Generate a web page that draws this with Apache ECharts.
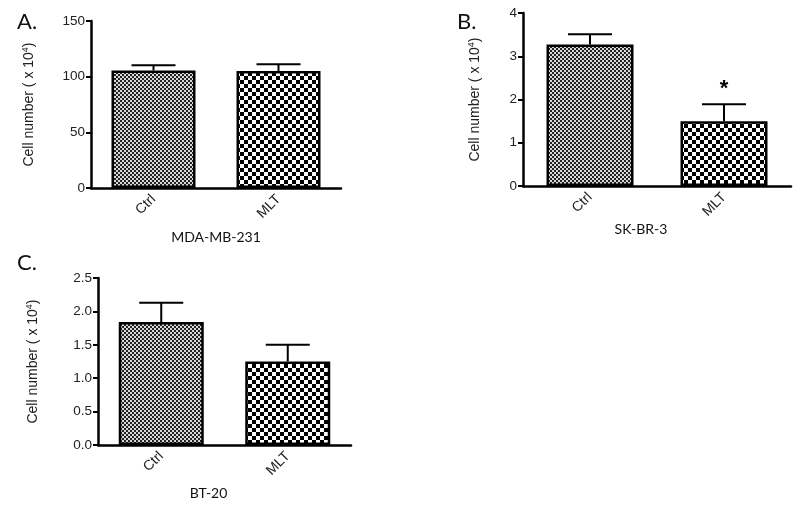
<!DOCTYPE html>
<html>
<head>
<meta charset="utf-8">
<script src="https://cdn.jsdelivr.net/npm/echarts@6/dist/echarts.min.js"></script>
<style>
  html, body { margin: 0; padding: 0; background: #fff; }
  #main { width: 800px; height: 505px; }
</style>
</head>
<body>
<div id="main"></div>
<script>
// data
let groups = ['Ctrl', 'MLT'];
let mdaMean = [105.5, 105.1];
let mdaErr = [4.7, 6.0];
let skbrMean = [3.27, 1.50];
let skbrErr = [0.24, 0.39];
let bt20Mean = [1.84, 1.25];
let bt20Err = [0.29, 0.25];
let skbrSig = ['', '*'];
let yTicksA = [0, 150, 50];
let yTicksB = [0, 4, 1];
let yTicksC = [0, 2.5, 0.5];

let chartDom = document.getElementById('main');
let myChart = echarts.init(chartDom, null, { renderer: 'canvas' });

function checker(size, dark, light) {
  let c = document.createElement('canvas');
  c.width = size * 2;
  c.height = size * 2;
  let ctx = c.getContext('2d');
  ctx.fillStyle = light;
  ctx.fillRect(0, 0, size * 2, size * 2);
  ctx.fillStyle = dark;
  ctx.fillRect(0, 0, size, size);
  ctx.fillRect(size, size, size, size);
  return { image: c, repeat: 'repeat' };
}

let fine = checker(2, '#222', '#d8d8d8');
let coarse = checker(4, '#000', '#fff');
let fills = [fine, coarse];

let axisFont = 'Liberation Sans';
let nameFont = 'Lato';

function barData(means) {
  return means.map(function (v, i) {
    return { value: v, itemStyle: { color: fills[i] } };
  });
}

function errData(means, errs) {
  return means.map(function (v, i) {
    return [i, v, errs[i]];
  });
}

function errorSeries(idx, means, errs, marks) {
  return {
    type: 'custom',
    xAxisIndex: idx,
    yAxisIndex: idx,
    z: 5,
    silent: true,
    data: errData(means, errs),
    renderItem: function (params, api) {
      let x = api.value(0);
      let m = api.value(1);
      let e = api.value(2);
      let base = api.coord([x, m]);
      let top = api.coord([x, m + e]);
      let half = 22;
      let children = [
        { type: 'line', shape: { x1: base[0], y1: base[1], x2: top[0], y2: top[1] },
          style: { stroke: '#000', lineWidth: 2 } },
        { type: 'line', shape: { x1: top[0] - half, y1: top[1], x2: top[0] + half, y2: top[1] },
          style: { stroke: '#000', lineWidth: 2 } }
      ];
      if (marks && marks[params.dataIndex]) {
        children.push({
          type: 'text',
          style: {
            text: marks[params.dataIndex], x: top[0], y: top[1] - 4,
            align: 'center', verticalAlign: 'bottom',
            font: 'bold 22px "Liberation Sans"', fill: '#000'
          }
        });
      }
      return { type: 'group', children: children };
    }
  };
}

function xAxisFor(idx, name, gap, shift) {
  return {
    type: 'category',
    gridIndex: idx,
    data: groups,
    name: name,
    nameLocation: 'middle',
    nameGap: gap,
    nameTextStyle: { fontFamily: nameFont, fontSize: 14, color: '#111', padding: [0, shift, 0, 0] },
    axisLine: { lineStyle: { color: '#000', width: 2.5 } },
    axisTick: { alignWithLabel: true, length: 6, lineStyle: { color: '#000', width: 2 } },
    axisLabel: { rotate: 45, fontFamily: axisFont, fontSize: 14, color: '#222', margin: 9 },
    splitLine: { show: false }
  };
}

function yAxisFor(idx, ticks, gap, digits) {
  return {
    type: 'value',
    gridIndex: idx,
    min: ticks[0],
    max: ticks[1],
    interval: ticks[2],
    name: '{t|Cell number ( x 10}{sup|4}{t|)}',
    nameLocation: 'middle',
    nameGap: gap,
    nameRotate: 90,
    nameTextStyle: {
      fontFamily: axisFont, fontSize: 14, color: '#222',
      rich: {
        t: { fontFamily: axisFont, fontSize: 14, color: '#222' },
        sup: { fontFamily: axisFont, fontSize: 9, color: '#222', verticalAlign: 'top', padding: [0, 0, 7, 0] }
      }
    },
    axisLine: { show: true, lineStyle: { color: '#000', width: 2.5 } },
    axisTick: { show: true, length: 5, lineStyle: { color: '#000', width: 2 } },
    axisLabel: {
      fontFamily: axisFont, fontSize: 13.5, color: '#222', margin: 6,
      formatter: function (v) { return v.toFixed(digits); }
    },
    splitLine: { show: false }
  };
}

let letterStyle = { fontFamily: nameFont, fontSize: 22, fontWeight: 'normal', color: '#111' };

let option = {
  animation: false,
  backgroundColor: '#fff',
  title: [
    { text: 'A.', left: 12, top: 6, textStyle: letterStyle },
    { text: 'B.', left: 452, top: 6, textStyle: letterStyle },
    { text: 'C.', left: 12, top: 247, textStyle: letterStyle }
  ],
  grid: [
    { left: 91, top: 21, width: 250, height: 167 },
    { left: 523, top: 13, width: 268, height: 173 },
    { left: 98, top: 278, width: 253, height: 167 }
  ],
  xAxis: [
    xAxisFor(0, 'MDA-MB-231', 42, 0),
    xAxisFor(1, 'SK-BR-3', 35, 32),
    xAxisFor(2, 'BT-20', 41, 32)
  ],
  yAxis: [
    yAxisFor(0, yTicksA, 54, 0),
    yAxisFor(1, yTicksB, 40, 0),
    yAxisFor(2, yTicksC, 57, 1)
  ],
  series: [
    { type: 'bar', xAxisIndex: 0, yAxisIndex: 0, barWidth: 84, data: barData(mdaMean),
      itemStyle: { borderColor: '#000', borderWidth: 2.5 } },
    { type: 'bar', xAxisIndex: 1, yAxisIndex: 1, barWidth: 87, data: barData(skbrMean),
      itemStyle: { borderColor: '#000', borderWidth: 2.5 } },
    { type: 'bar', xAxisIndex: 2, yAxisIndex: 2, barWidth: 85, data: barData(bt20Mean),
      itemStyle: { borderColor: '#000', borderWidth: 2.5 } },
    errorSeries(0, mdaMean, mdaErr, null),
    errorSeries(1, skbrMean, skbrErr, skbrSig),
    errorSeries(2, bt20Mean, bt20Err, null)
  ]
};

myChart.setOption(option);
</script>
</body>
</html>
